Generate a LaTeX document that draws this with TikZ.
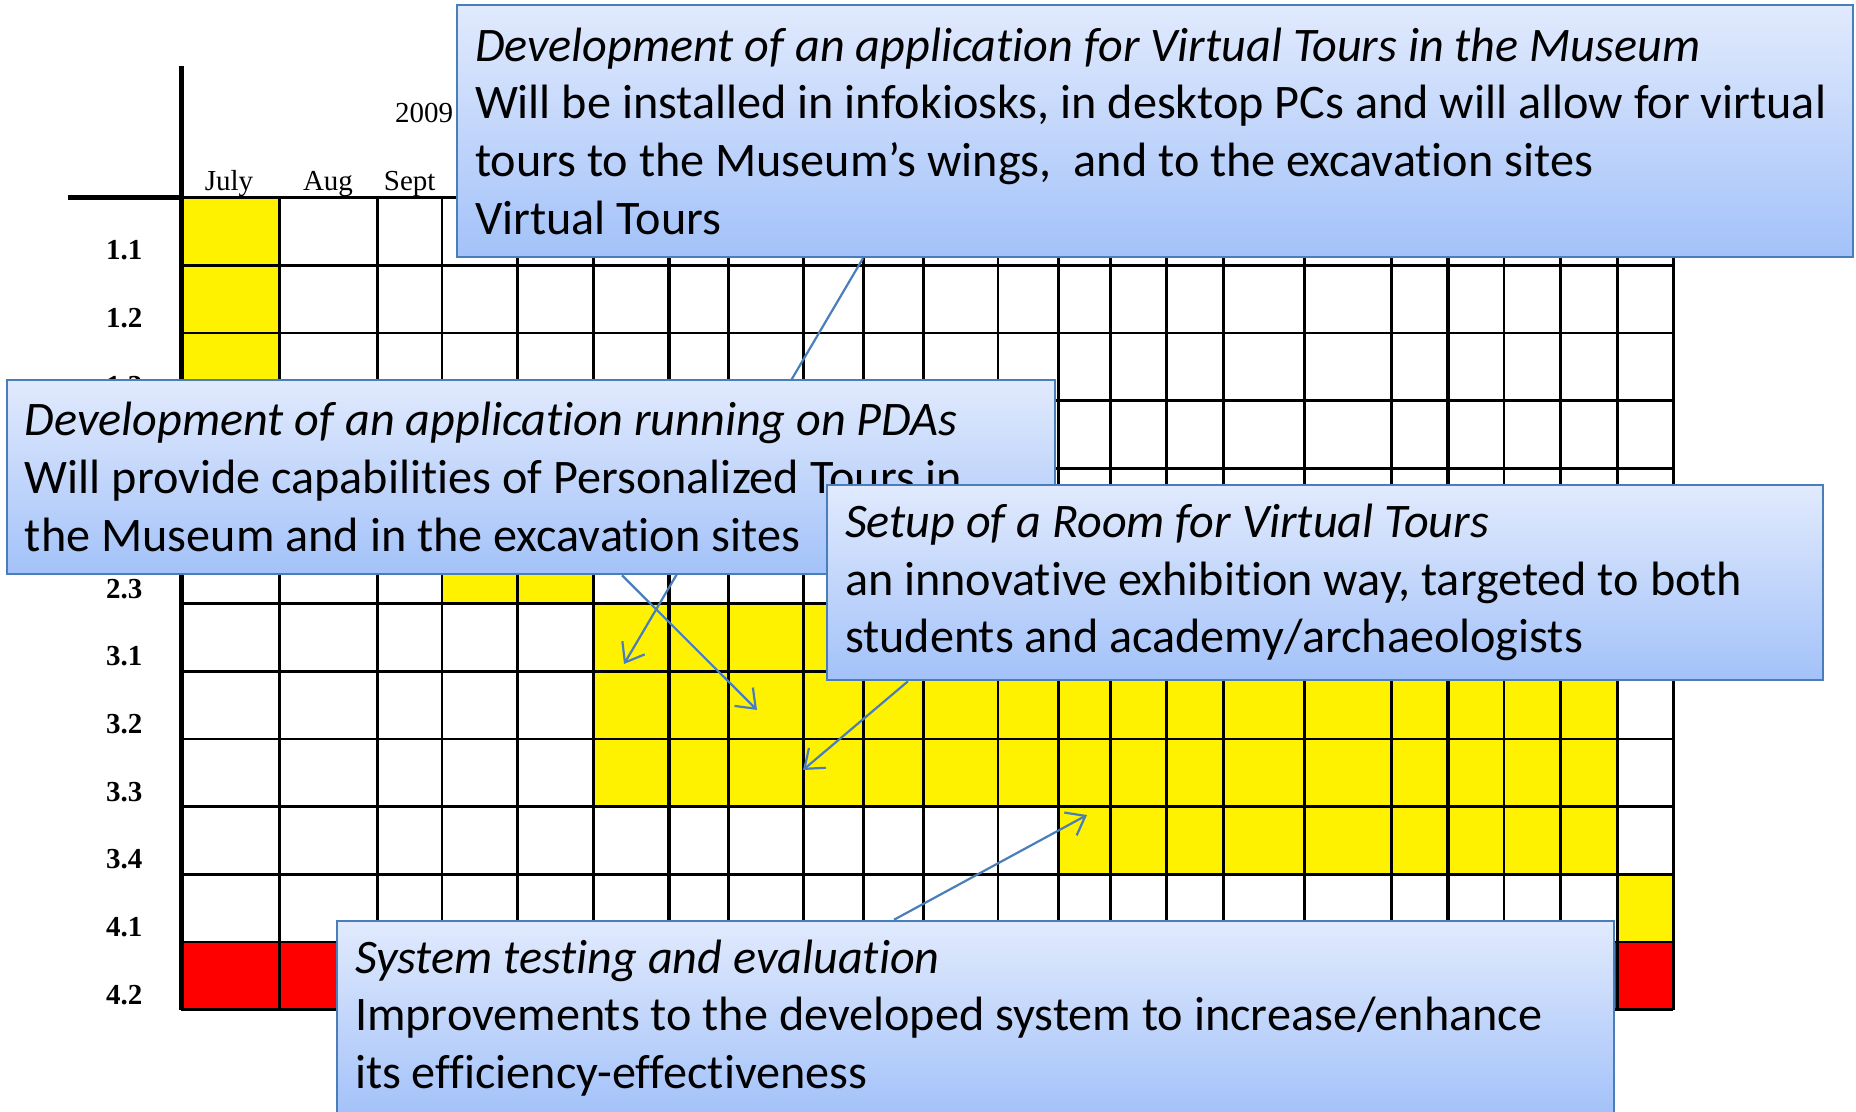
\documentclass[tikz,border=0pt]{standalone}
\usepackage{fontspec}
\setmainfont{Liberation Serif}
\newfontfamily\calibri[Ligatures=NoCommon]{Carlito}
\usetikzlibrary{arrows.meta}
\definecolor{boxtop}{HTML}{E1EAFD}
\definecolor{boxbot}{HTML}{A3C2F9}
\definecolor{boxline}{HTML}{4A7EBB}

\begin{document}
\begin{tikzpicture}[x=0.5pt,y=-0.5pt]
\tikzstyle{callout}=[draw=boxline, line width=1.25pt, top color=boxtop, bottom color=boxbot, align=flush left, inner xsep=9pt, inner ysep=0pt, font=\calibri\fontsize{24.1}{28.85}\selectfont]
\tikzstyle{pointer}=[draw=boxline, line width=1.1pt, -{Straight Barb[length=8.5pt,width=13pt]}]
\tikzstyle{rowlabel}=[anchor=base, inner sep=0pt, font=\fontsize{14.5}{16}\selectfont\bfseries]
\tikzstyle{month}=[anchor=base, inner sep=0pt, font=\fontsize{14.5}{16}\selectfont]
\tikzstyle{gridline}=[line width=1.35pt]

\clip (0,0) rectangle (1856,1112);
\fill[white] (0,0) rectangle (1856,1112);

\fill[yellow] (181.4,197.7) rectangle (279.4,400.71);
\fill[yellow] (442,536.05) rectangle (593.2,603.72);
\fill[yellow] (593.2,603.72) rectangle (1617.4,806.73);
\fill[yellow] (1058.6,806.73) rectangle (1617.4,874.4);
\fill[yellow] (1617.4,874.4) rectangle (1673.3,942.07);
\fill[red] (181.4,942.07) rectangle (1673.3,1009.74);

\foreach \x in {279.4,377.3,442,517.4,593.2,728.6,803.3,863.8,923.5,998.1,1058.6,1110.6,1166.5,1223.5,1304.3,1391.6,1504.1,1560.8,1617.4,1673.3}
  \draw[gridline] (\x,197.7) -- (\x,1009.74);
\foreach \k in {0,...,12}
  \draw[gridline] (181.4,{197.7+67.67*\k}) -- (1673.3,{197.7+67.67*\k});
\draw[line width=2.2pt] (668.9,197.7) -- (668.9,1009.74);
\draw[line width=2.2pt] (1448.2,197.7) -- (1448.2,1009.74);
\draw[line width=2.3pt] (181.4,66) -- (181.4,1009.74);
\draw[line width=2.3pt] (67.5,197.7) -- (181.4,197.7);

\node[month] (year) at (424,122.5) {2009};
\node[month] (jul) at (229,191) {July};
\node[month] (aug) at (328,191) {Aug};
\node[month] (sep) at (409.7,191) {Sept};

\foreach \lab/\i in {1.1/1,1.2/2,1.3/3,2.3/6,3.1/7,3.2/8,3.3/9,3.4/10,4.1/11,4.2/12}
  \node[rowlabel] (row\i) at (124.3,{197.7+67.67*\i-5.5}) {\lab};

\coordinate (tip31) at (624,664);
\coordinate (tip32) at (757,710);
\coordinate (tip33) at (803,770);
\coordinate (tip34) at (1087,815);

\node[callout, minimum height=126pt, text width=680pt] (tourbox) at (1155,131) {\textit{Development of an application for Virtual Tours in the Museum}\\
Will be installed in infokiosks, in desktop PCs and will allow for virtual\\
tours to the Museum’s wings,~ and to the excavation sites\\
Virtual Tours};
\draw[pointer] ([xshift=-146pt]tourbox.south) -- (tip31);

\node[callout, minimum height=97pt, text width=506pt] (pdabox) at (531,477) {\textit{Development of an application running on PDAs}\\
Will provide capabilities of Personalized Tours in\\
the Museum and in the excavation sites};
\draw[pointer] ([xshift=45.5pt]pdabox.south) -- (tip32);

\node[callout, minimum height=97.5pt, text width=480pt] (roombox) at (1325,582.5) {\textit{Setup of a Room for Virtual Tours}\\
an innovative exhibition way, targeted to both\\
students and academy/archaeologists};
\draw[pointer] ([xshift=-208.5pt]roombox.south) -- (tip33);

\node[callout, minimum height=97pt, text width=620.5pt] (testbox) at (975.5,1018) {\textit{System testing and evaluation}\\
Improvements to the developed system to increase/enhance\\
its efficiency-effectiveness};
\draw[pointer] ([xshift=-40.75pt]testbox.north) -- (tip34);
\end{tikzpicture}
\end{document}
